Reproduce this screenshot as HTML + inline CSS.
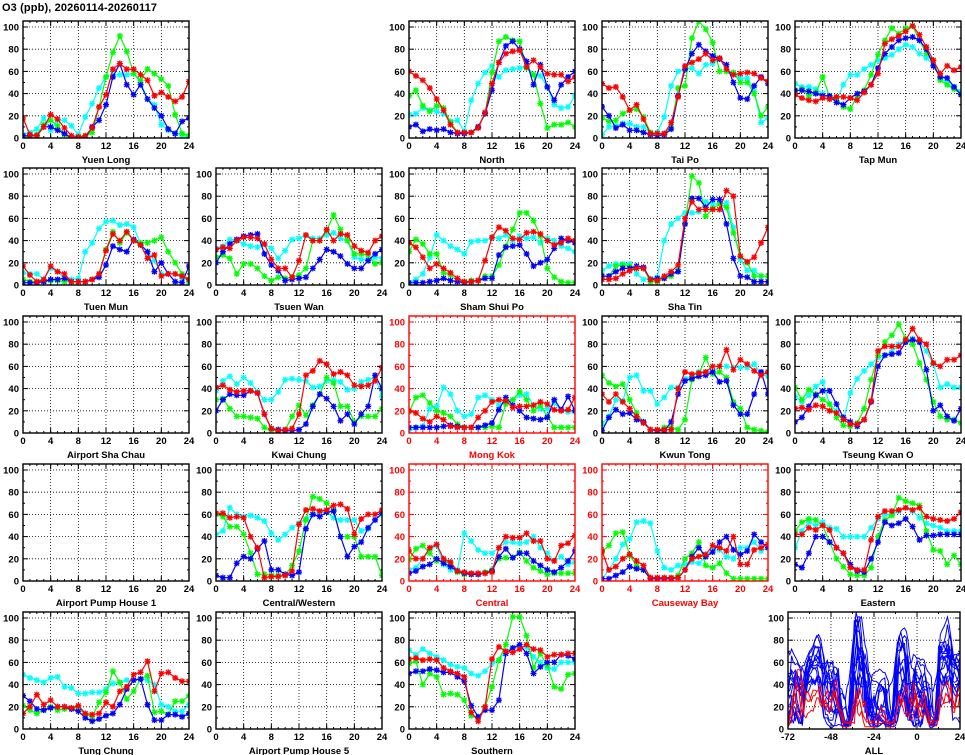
<!DOCTYPE html>
<html><head><meta charset="utf-8"><style>
html,body{margin:0;padding:0;background:#fff;}
svg{display:block;font-family:"Liberation Sans",sans-serif;}
</style></head><body>
<svg id="s" width="965" height="755" viewBox="0 0 965 755" xmlns="http://www.w3.org/2000/svg">
<text x="2" y="11" font-size="11" font-weight="bold" textLength="155">O3 (ppb), 20260114-20260117</text>
</svg>
<script>
const S=document.getElementById('s');
const NS='http://www.w3.org/2000/svg';
function el(t,a,txt){const e=document.createElementNS(NS,t);for(const k in a)e.setAttribute(k,a[k]);if(txt!==undefined)e.textContent=txt;S.appendChild(e);return e;}
const cols=[23,216,409,602,795],rows=[21,168,316,464,612],W=166,H=117,YM=105.4;
const P={
"Yuen Long":[[3,5,8,18,7,16,16,11,3,19,31,45,55,57,57,57,58,50,35,30,12,7,4,3,0],[0,2,3,12,16,11,3,0,0,2,5,28,55,77,92,78,58,52,62,58,53,47,21,4,2],[2,2,2,10,10,7,4,0,0,0,10,16,30,55,67,48,39,48,35,27,20,8,4,15,18],[18,3,2,10,21,17,9,2,1,2,9,28,39,62,67,62,62,57,52,38,41,37,33,37,51]],
"North":[[21,22,27,25,24,22,15,16,6,34,49,59,65,55,61,62,63,65,57,56,46,30,27,28,38],[38,43,29,24,29,27,14,5,5,5,10,22,59,87,91,88,87,63,57,31,9,12,12,14,10],[10,12,6,8,7,8,5,4,4,5,10,22,43,68,83,87,80,69,48,66,46,34,48,55,60],[60,56,52,45,35,25,12,5,5,5,9,23,49,68,76,78,79,64,70,64,58,57,57,51,55]],
"Tai Po":[[3,10,11,13,13,10,10,5,5,19,47,60,62,63,58,66,67,72,60,58,54,54,42,14,18],[18,15,16,22,25,26,19,5,4,4,10,45,47,90,105,98,86,60,60,59,50,50,40,20,28],[28,20,9,12,7,7,5,3,2,3,8,38,62,76,84,78,74,71,66,50,36,35,47,55,49],[49,45,46,37,25,30,17,4,4,4,14,37,65,68,71,76,70,72,62,57,58,59,58,54,51]],
"Tap Mun":[[49,46,46,44,40,35,34,48,57,57,62,66,70,72,75,80,84,82,76,72,66,54,50,45,42],[42,44,38,41,55,37,36,28,26,38,43,57,75,88,99,94,99,101,88,76,70,52,48,44,40],[43,43,42,40,38,38,32,30,36,40,42,48,63,76,82,88,90,91,88,80,65,55,54,46,39],[39,36,34,33,36,35,37,37,36,34,41,48,58,85,89,92,96,101,93,82,70,58,65,61,64]],
"Tuen Mun":[[11,10,10,5,15,12,6,5,6,30,38,51,57,58,54,55,52,37,30,22,10,10,10,6,4],[5,3,3,3,4,4,3,3,3,3,5,10,32,48,38,47,40,38,38,40,43,30,20,10,3],[2,2,2,3,5,5,6,3,3,3,5,7,18,35,32,30,41,36,30,12,20,10,3,2,17],[17,9,3,5,17,12,10,3,3,3,5,10,31,46,40,48,40,36,24,27,8,10,10,8,5]],
"Tsuen Wan":[[33,35,41,40,37,35,34,37,33,24,31,41,42,45,42,42,45,47,42,40,25,23,23,25,24],[25,27,24,10,19,19,15,8,4,7,6,7,9,15,40,40,49,63,50,40,28,28,27,19,20],[20,30,37,41,44,45,46,28,18,13,4,5,6,7,15,23,32,30,26,19,15,15,22,28,32],[32,34,33,40,43,43,42,37,23,15,15,7,22,45,40,40,50,40,46,45,35,31,29,40,44]],
"Sham Shui Po":[[2,5,10,25,45,40,35,32,28,39,40,40,43,42,45,40,44,42,43,38,42,40,35,33,30],[30,41,37,28,28,11,9,4,3,4,4,8,8,18,35,50,65,65,58,44,15,7,3,2,2],[2,2,2,3,4,6,4,3,2,3,4,6,6,27,34,35,36,28,17,20,23,33,42,40,38],[38,34,25,15,19,15,11,6,3,3,4,22,43,52,49,42,41,47,48,46,40,36,38,42,40]],
"Sha Tin":[[13,17,19,19,19,10,5,6,7,40,55,60,65,65,66,75,73,73,74,52,23,13,13,8,8],[8,8,17,18,17,15,15,3,3,6,8,14,55,98,92,62,69,73,70,47,26,20,8,8,8],[8,8,12,15,15,17,16,5,6,6,10,12,55,78,78,70,77,77,55,24,8,7,3,3,3],[5,5,6,10,13,15,15,5,4,8,12,18,60,75,68,68,68,68,85,80,26,21,25,38,52]],
"Kwai Chung":[[38,47,51,44,50,45,37,30,30,37,48,49,48,47,41,42,47,48,46,39,40,46,48,50,33],[30,31,22,15,15,14,13,5,2,2,3,15,25,16,25,35,50,45,24,24,10,15,15,15,22],[20,30,35,34,34,38,36,17,4,3,2,2,3,8,24,35,31,24,11,17,8,17,24,52,40],[41,43,39,37,38,38,36,17,4,2,3,4,17,52,56,65,62,53,55,52,43,42,43,47,59]],
"Mong Kok":[[2,5,6,22,24,41,35,20,15,17,32,34,30,25,30,30,34,35,25,22,22,27,20,19,19],[19,32,34,27,20,18,15,8,5,5,5,5,6,5,26,30,37,30,20,25,15,5,5,5,5],[5,5,5,5,5,6,7,6,5,5,5,7,9,21,32,25,20,14,13,12,14,30,21,33,20],[20,18,13,10,15,12,6,5,5,5,14,20,28,30,29,23,24,24,25,28,26,21,20,21,32]],
"Kwun Tong":[[8,15,30,29,50,52,38,38,26,32,41,41,49,51,55,55,55,60,60,59,59,59,62,53,51],[52,45,42,44,30,18,10,3,2,5,5,3,12,48,53,68,53,55,50,28,22,5,3,2,1],[2,14,21,17,18,12,10,3,2,2,10,35,47,49,51,52,55,46,47,25,17,17,35,55,35],[35,28,35,28,22,15,9,3,3,3,3,40,55,53,54,55,60,60,75,57,66,62,56,52,55]],
"Tseung Kwan O":[[33,28,34,42,46,26,20,12,36,49,56,62,68,70,73,80,83,85,82,74,62,41,44,41,41],[41,30,39,35,30,26,14,7,6,9,22,48,70,82,88,98,85,80,63,48,28,15,12,12,9],[10,14,24,34,38,38,26,14,10,6,12,28,60,70,71,72,82,84,82,57,20,25,15,11,22],[22,23,21,25,24,20,18,12,8,8,12,29,74,78,78,78,84,94,84,80,63,60,66,66,70]],
"Central/Western":[[42,45,66,60,58,59,57,54,43,37,42,48,52,56,60,62,62,57,55,55,55,45,47,55,60],[60,58,49,49,42,25,6,6,5,5,5,14,27,55,76,74,70,64,40,40,40,22,22,22,5],[5,3,3,16,22,20,29,36,10,10,6,5,8,47,60,58,62,63,40,22,31,35,48,55,61],[61,61,57,58,57,40,30,3,4,4,5,9,51,64,65,63,64,68,69,65,42,56,60,60,64]],
"Central":[[10,12,20,28,32,15,10,10,43,36,28,25,25,30,35,35,34,35,40,30,25,18,22,15,17],[19,29,32,25,18,18,16,8,6,6,6,8,10,20,21,21,26,18,12,9,6,7,7,7,7],[7,9,13,15,20,16,13,9,7,6,6,7,9,22,29,21,25,25,18,14,10,8,12,18,27],[27,20,20,30,33,20,17,9,8,7,7,7,8,30,40,39,39,43,36,36,20,18,32,34,41]],
"Causeway Bay":[[2,10,20,33,38,53,54,52,27,12,10,14,15,17,16,22,28,28,22,20,30,30,35,27,30],[26,32,43,44,23,14,10,2,2,2,2,5,20,25,35,14,12,16,7,2,2,2,2,2,2],[2,2,5,8,13,11,10,2,2,2,2,3,10,22,30,22,26,35,40,28,24,27,42,35,30],[27,10,13,20,24,18,14,3,3,3,3,3,10,20,22,24,32,30,27,40,15,15,28,30,33]],
"Eastern":[[30,45,53,50,53,48,47,40,40,40,40,48,56,60,60,63,66,63,57,52,50,48,45,45,45],[45,53,56,55,50,35,20,13,6,5,5,12,40,55,59,75,72,70,68,45,28,27,15,23,15],[15,12,25,40,40,35,30,25,15,9,8,20,35,53,50,52,56,49,37,41,41,42,42,42,42],[42,42,48,46,50,46,30,25,12,10,10,37,58,63,63,64,66,64,66,58,56,55,54,56,62]],
"Tung Chung":[[49,46,44,42,46,47,38,37,32,32,33,33,36,41,42,44,44,45,44,40,22,20,16,16,22],[21,17,14,17,20,17,18,18,20,13,11,24,33,52,42,27,34,45,48,15,16,13,25,25,30],[30,25,18,17,19,20,20,18,16,10,7,9,12,14,22,36,44,45,22,8,8,13,13,11,14],[14,20,31,22,26,20,20,19,21,14,13,14,24,20,34,38,49,51,61,34,50,51,46,43,43]],
"Southern":[[71,67,72,68,65,62,58,56,55,50,48,52,59,62,70,73,74,74,65,60,55,54,60,60,60],[59,61,40,50,47,31,32,31,26,12,10,20,38,62,76,101,101,84,55,68,57,38,36,49,50],[50,52,52,54,53,51,51,47,43,21,11,17,17,26,68,73,76,68,50,56,60,60,67,66,63],[63,64,62,63,62,55,52,50,47,15,7,20,63,74,70,69,72,76,72,71,65,67,67,68,68]]
};
const layout=[
["Yuen Long",0,0],["North",2,0],["Tai Po",3,0],["Tap Mun",4,0],
["Tuen Mun",0,1],["Tsuen Wan",1,1],["Sham Shui Po",2,1],["Sha Tin",3,1],
["Airport Sha Chau",0,2],["Kwai Chung",1,2],["Mong Kok",2,2],["Kwun Tong",3,2],["Tseung Kwan O",4,2],
["Airport Pump House 1",0,3],["Central/Western",1,3],["Central",2,3],["Causeway Bay",3,3],["Eastern",4,3],
["Tung Chung",0,4],["Airport Pump House 5",1,4],["Southern",2,4]];
const redSt=["Mong Kok","Central","Causeway Bay"];
const colors=["#00ffff","#00ff00","#0000ff","#ff0000"];
let cid=0;
function frame(x0,y0,w,h,xmin,xmax,xticks,xminor,col){
  const fx=v=>x0+(v-xmin)/(xmax-xmin)*w, fy=v=>y0+h-v/YM*h;
  for(const t of xticks){if(t>xmin&&t<xmax)el('line',{x1:fx(t),x2:fx(t),y1:y0,y2:y0+h,stroke:'#000','stroke-width':0.8,'stroke-dasharray':'1,2'});}
  for(let v=20;v<=100;v+=20)el('line',{x1:x0,x2:x0+w,y1:fy(v),y2:fy(v),stroke:'#000','stroke-width':0.8,'stroke-dasharray':'1,2'});
  for(const t of xminor){const X=fx(t);el('line',{x1:X,x2:X,y1:y0+h,y2:y0+h-2,stroke:col,'stroke-width':1});el('line',{x1:X,x2:X,y1:y0,y2:y0+2,stroke:col,'stroke-width':1});}
  for(const t of xticks){const X=fx(t);el('line',{x1:X,x2:X,y1:y0+h,y2:y0+h-5,stroke:col,'stroke-width':1});el('line',{x1:X,x2:X,y1:y0,y2:y0+5,stroke:col,'stroke-width':1});
    el('text',{x:X,y:y0+h+11,'font-size':9.5,'font-weight':'bold','text-anchor':'middle',fill:col},String(t));}
  for(let v=0;v<=100;v+=10){const Y=fy(v),L=v%20?2:5;el('line',{x1:x0,x2:x0+L,y1:Y,y2:Y,stroke:col,'stroke-width':1});el('line',{x1:x0+w,x2:x0+w-L,y1:Y,y2:Y,stroke:col,'stroke-width':1});
    if(v%20==0)el('text',{x:x0-4,y:Y+3.5,'font-size':9.5,'font-weight':'bold','text-anchor':'end',fill:col},String(v));}
  return [fx,fy];
}
for(const [name,c,r] of layout){
  const x0=cols[c],y0=rows[r];const red=redSt.includes(name);const col=red?'#ff0000':'#000';
  const id='c'+(cid++);
  const cp=el('clipPath',{id});const rc=document.createElementNS(NS,'rect');rc.setAttribute('x',x0);rc.setAttribute('y',y0);rc.setAttribute('width',W);rc.setAttribute('height',H);cp.appendChild(rc);
  const [fx,fy]=frame(x0,y0,W,H,0,24,[0,4,8,12,16,20,24],[...Array(25).keys()],col);
  const d=P[name];
  if(d){d.forEach((s,i)=>{
    const pts=s.map((v,k)=>fx(k).toFixed(1)+','+fy(v).toFixed(1)).join(' ');
    el('polyline',{points:pts,fill:'none',stroke:colors[i],'stroke-width':1.2,'clip-path':`url(#${id})`});
    let p='';s.forEach((v,k)=>{const X=fx(k),Y=fy(v),a=3;p+=`M${X-a},${Y}h${2*a}M${X},${Y-a}v${2*a}M${X-2.3},${Y-2.3}l4.6,4.6M${X-2.3},${Y+2.3}l4.6,-4.6`;});
    el('path',{d:p,stroke:colors[i],'stroke-width':1.3,fill:'none','clip-path':`url(#${id})`});
  });}
  el('rect',{x:x0,y:y0,width:W,height:H,fill:'none',stroke:col,'stroke-width':1.4});
  el('text',{x:x0+W/2,y:y0+H+25,'font-size':9.5,'font-weight':'bold','text-anchor':'middle',fill:col},name);
}
// ALL panel
{const x0=788,y0=612,w=172;
 const id='call';const cp=el('clipPath',{id});const rc=document.createElementNS(NS,'rect');rc.setAttribute('x',x0);rc.setAttribute('y',y0);rc.setAttribute('width',w);rc.setAttribute('height',H);cp.appendChild(rc);
 const [fx,fy]=frame(x0,y0,w,H,-72,24,[-72,-48,-24,0,24],[-60,-36,-12,12],'#000');
 const names=Object.keys(P);
 const order=names.filter(n=>!redSt.includes(n)).concat(redSt);
 for(const n of order){const d=P[n];const all=[].concat(d[0].slice(0,24),d[1].slice(0,24),d[2].slice(0,24),d[3]);
   const pts=all.map((v,k)=>fx(-72+k).toFixed(1)+','+fy(v).toFixed(1)).join(' ');
   el('polyline',{points:pts,fill:'none',stroke:redSt.includes(n)?'#ff0000':'#0000ff','stroke-width':1,'clip-path':`url(#${id})`});}
 el('rect',{x:x0,y:y0,width:w,height:H,fill:'none',stroke:'#000','stroke-width':1.4});
 el('text',{x:x0+w/2,y:y0+H+25,'font-size':9.5,'font-weight':'bold','text-anchor':'middle'},'ALL');
}
</script>
</body></html>
